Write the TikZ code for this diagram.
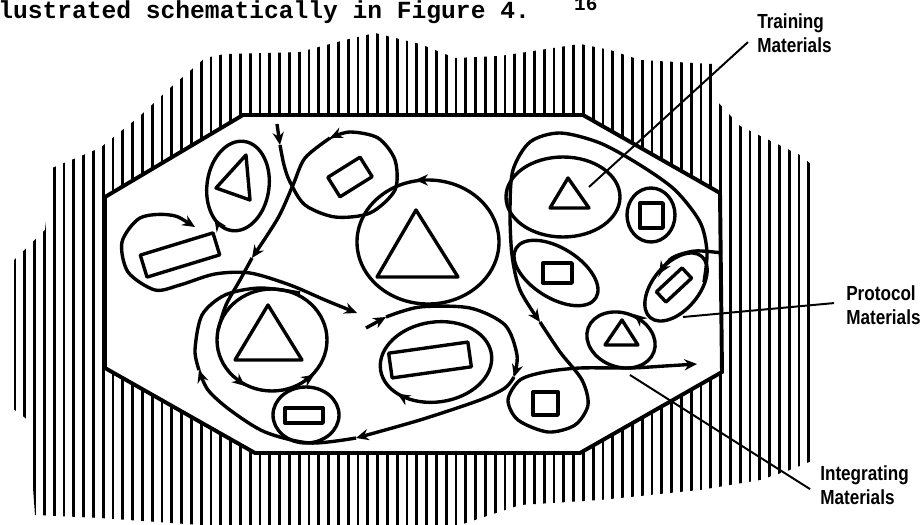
\documentclass[tikz,border=0pt]{standalone}
\usepackage{fontspec}
\setsansfont{Liberation Sans}
\newfontfamily\typefont{Liberation Mono}
\newfontfamily\lblfont[FakeStretch=0.84]{Liberation Sans}
\usetikzlibrary{arrows.meta, decorations.markings, calc}

\begin{document}
\begin{tikzpicture}[x=0.025cm, y=-0.025cm, >={Stealth[length=9pt, width=8pt, inset=3pt]}]
    % Styles
    \tikzstyle{wall} = [line width=2.8pt, line join=miter]
    \tikzstyle{hatch} = [line width=1.9pt]
    \tikzstyle{shapeline} = [line width=2.4pt, line join=round]
    \tikzstyle{flowline} = [line width=2.4pt]
    \tikzstyle{leader} = [line width=1.4pt]
    \tikzstyle{lbltext} = [font=\lblfont\bfseries\fontsize{14.5}{17.5}\selectfont, align=left, inner sep=0pt, anchor=north west]
    \tikzset{along/.style={postaction={decorate, decoration={markings, mark=at position #1 with {\arrow{>}}}}},
             against/.style={postaction={decorate, decoration={markings, mark=at position #1 with {\arrow{<}}}}}}

    \fill[white] (0,0) rectangle (922,525);
    \useasboundingbox (0,0) rectangle (922,525);

    % Caption line
    \node[anchor=base west, inner sep=0pt, font=\typefont\bfseries\fontsize{17.5}{18}\selectfont] (caption) at (-2,19)
        {lustrated schematically in Figure 4.\ \ \ \raisebox{6pt}{\fontsize{13.8}{14}\selectfont 16}};

    % Hatched surroundings
    \begin{scope}
        \clip (12,262) -- (45,230) -- (52,168) -- (100,148) -- (140,116) -- (170,88) -- (205,58) -- (225,54)
            -- (300,52) -- (345,40) -- (375,33) -- (420,44) -- (455,58) -- (500,56) -- (540,50) -- (580,44)
            -- (610,50) -- (640,60) -- (712,64) -- (716,100) -- (740,126) -- (800,155) -- (812,165)
            -- (814,460) -- (790,470) -- (760,480) -- (700,490) -- (600,500) -- (520,505) -- (460,525)
            -- (200,525) -- (100,518) -- (35,515) -- (28,420) -- (12,408) -- cycle;
        \foreach \x in {15,24.8,...,812}
            \draw[hatch] (\x,20) -- (\x,530);
    \end{scope}
    \filldraw[wall, fill=white] (243,115) -- (583,115) -- (720,193) -- (722,372) -- (580,453)
        -- (255,453) -- (105,368) -- (105,197) -- cycle;

    % Left group
    \draw[shapeline, along=0.34, rotate around={-8:(238,186)}] (238,186) ellipse [x radius=31, y radius=45];
    \draw[shapeline] (216,188) -- (246,155) -- (250,200) -- cycle;
    \draw[shapeline, rotate around={32:(350,177)}] (331,165.5) rectangle (369,188.5);
    \draw[shapeline, rotate around={17:(180,255)}] (142,243.5) rectangle (218,266.5);
    \draw[shapeline, against=0.75] (428,242) ellipse [x radius=71, y radius=62];
    \draw[shapeline] (377,277) -- (416,210) -- (458,277) -- cycle;
    \draw[shapeline, against=0.15, against=0.37] (272,340) ellipse [x radius=55, y radius=51];
    \draw[shapeline] (235,360) -- (268,305) -- (302,360) -- cycle;
    \draw[shapeline] (306,415) ellipse [x radius=33, y radius=28];
    \draw[shapeline] (285,408) rectangle (323,423);
    \draw[shapeline, along=0.4, rotate around={8:(436,362)}] (436,362) ellipse [x radius=56, y radius=40];
    \draw[shapeline, rotate around={8:(430,360)}] (390,347.5) rectangle (470,372.5);

    % Right group
    \draw[shapeline] (563,197) ellipse [x radius=57, y radius=40];
    \draw[shapeline] (550,208) -- (568,178) -- (589,208) -- cycle;
    \draw[shapeline] (651,215) ellipse [x radius=24, y radius=27];
    \draw[shapeline] (640,203) rectangle (663,228);
    \draw[shapeline, rotate around={-32:(556,273)}] (556,273) ellipse [x radius=47, y radius=25];
    \draw[shapeline] (543,263) rectangle (572,283);
    \draw[shapeline, rotate around={50:(676,287)}] (676,287) ellipse [x radius=40, y radius=23];
    \draw[shapeline, rotate around={43:(674,285)}] (656.5,278) rectangle (691.5,292);
    \draw[shapeline, against=0.83, rotate around={-20:(621,340)}] (621,340) ellipse [x radius=35, y radius=27];
    \draw[shapeline] (605,345) -- (622,320) -- (638,345) -- cycle;
    \draw[shapeline] (533,392) rectangle (558,415);

    % Flow paths (split where the arrows sit)
    \draw[flowline, ->] (277,124) -- (280,145);
    \draw[flowline, ->] plot[smooth] coordinates {(280,145) (284,165) (290,182) (305,205) (335,217) (370,213)
        (395,190) (395,160) (378,138) (350,132) (330,138)};
    \draw[flowline, ->] plot[smooth] coordinates {(330,138) (305,158) (293,185) (278,218) (252,258)};
    \draw[flowline] plot[smooth] coordinates {(252,258) (240,280) (226,305) (218,330)};

    \draw[flowline, <->] plot[smooth] coordinates {(195,227) (170,215) (140,218) (122,242) (128,272) (155,290)
        (180,285) (215,274) (250,273) (290,285) (325,300) (357,313)};

    \draw[flowline, ->] (366,328) -- (386,317);
    \draw[flowline, ->] plot[smooth] coordinates {(386,317) (420,307) (470,308) (505,325) (517,355) (514,377)};
    \draw[flowline, ->] plot[smooth] coordinates {(514,377) (505,388) (480,400) (420,420) (356,438)};
    \draw[flowline, ->] plot[smooth] coordinates {(356,438) (310,443) (265,432) (230,410) (208,390) (199,370)};
    \draw[flowline] plot[smooth] coordinates {(199,370) (195,350) (202,315) (225,295) (260,288) (300,293)};

    \draw[flowline, ->] plot[smooth] coordinates {(704,282) (707,252) (700,222) (675,190) (640,165)
        (600,143) (560,133) (530,142) (513,170) (510,210) (512,255) (520,290) (540,322)};
    \draw[flowline, ->] plot[smooth] coordinates {(540,322) (560,352) (582,380)
        (588,405) (575,425) (548,432) (518,420) (508,400) (520,380) (545,372) (580,368) (630,368) (665,366)
        (697,364)};
    \draw[flowline, ->] plot[smooth] coordinates {(722,253) (695,251) (672,258) (659,274)};

    % Labels
    \node[lbltext] (training) at (757,13) {Training\\Materials};
    \node[lbltext] (protocol) at (846,285) {Protocol\\Materials};
    \node[lbltext] (integrating) at (820,465) {Integrating\\Materials};

    \coordinate (trainend) at (589,187);
    \coordinate (protend) at (683,317);
    \coordinate (integend) at (630,375);
    \draw[leader] (trainend) -- ($(training.west)+(-9,9)$);
    \draw[leader] (protend) -- ($(protocol.west)+(-12,-2)$);
    \draw[leader] (integend) -- ($(integrating.west)+(-10,4)$);
\end{tikzpicture}
\end{document}
